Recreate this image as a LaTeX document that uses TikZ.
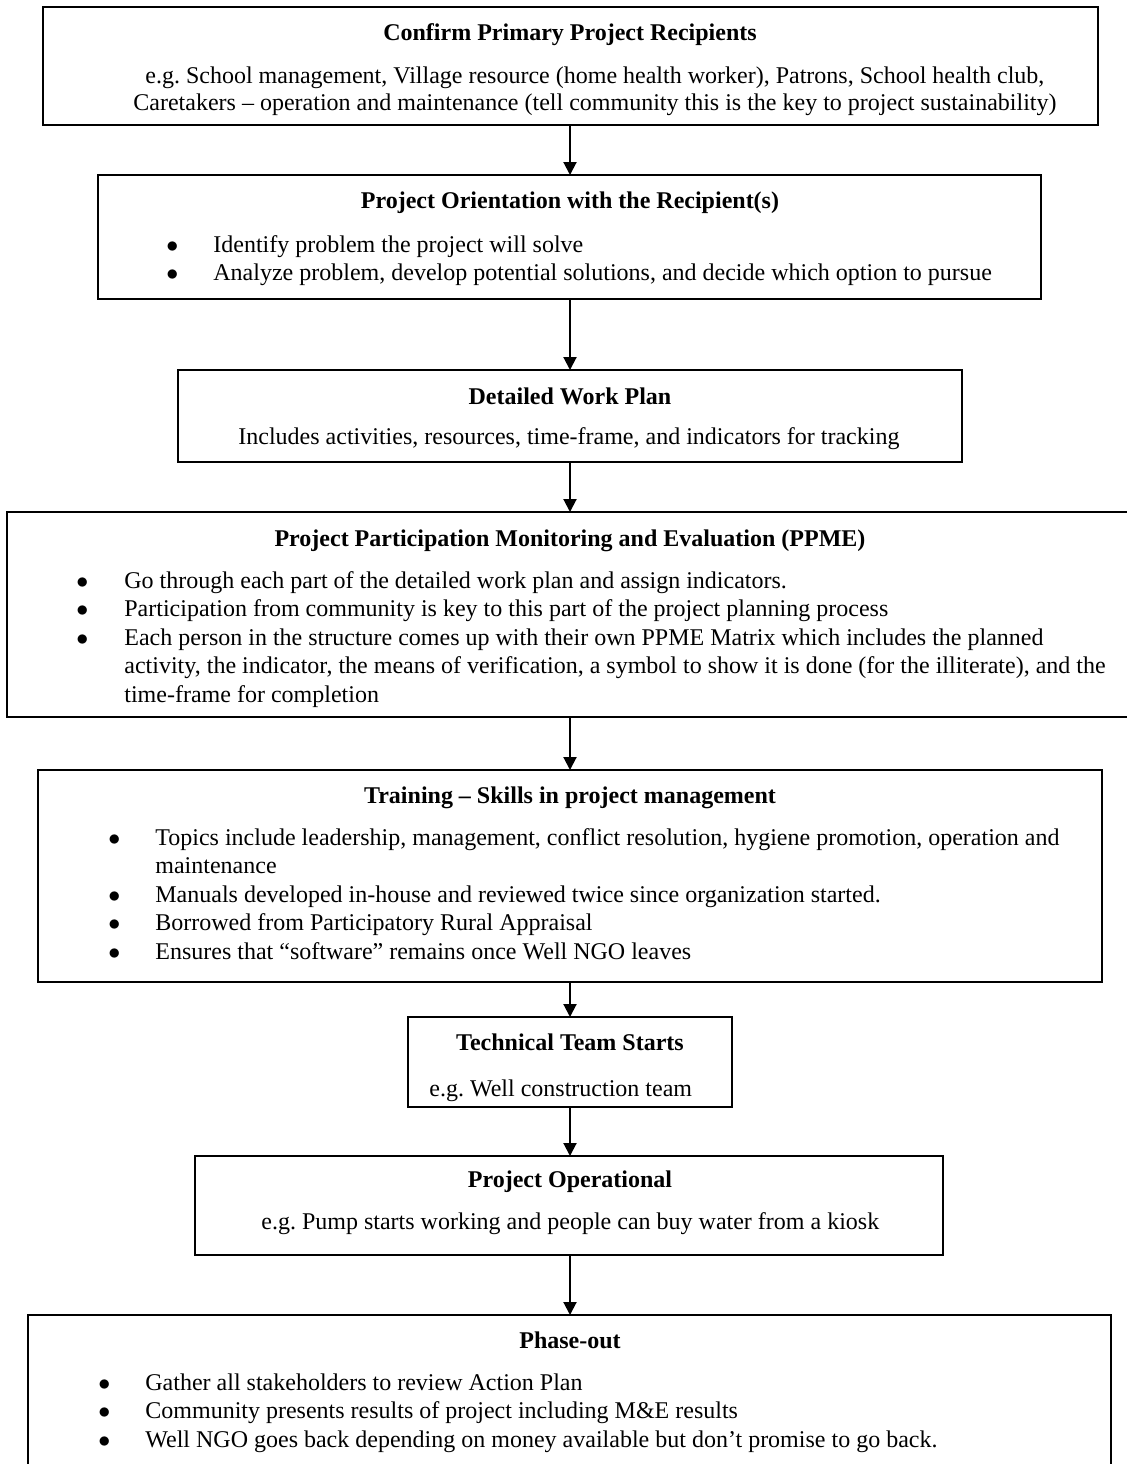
\documentclass[tikz,border=0pt]{standalone}
\usepackage{fontspec}
\setmainfont{Liberation Serif}
\usetikzlibrary{arrows.meta}
\newcommand\myfs{\fontsize{12pt}{14pt}\selectfont\frenchspacing}
\begin{document}
\begin{tikzpicture}[x=0.5pt,y=-0.5pt,
  box/.style={draw, line width=1pt, inner sep=0pt, outer sep=0pt, anchor=north west},
  ttl/.style={anchor=base, inner sep=0pt, font=\myfs\bfseries},
  txt/.style={anchor=base west, inner sep=0pt, font=\myfs},
  arr/.style={line width=1pt, -{Triangle[length=6.5pt,width=6.5pt]}}]
\clip (0,0) rectangle (1127,1464);
\fill[white] (0,0) rectangle (1127,1464);
\coordinate (ax) at (570,0);

% boxes
\node[box, minimum width=527.5pt, minimum height=59pt]  (b1) at (43,7) {};
\node[box, minimum width=471.5pt, minimum height=62pt]  (b2) at (98,175) {};
\node[box, minimum width=392pt,   minimum height=46pt]  (b3) at (178,370) {};
\node[box, minimum width=566.5pt, minimum height=102.5pt] (b4) at (7,512) {};
\node[box, minimum width=532pt,   minimum height=106pt] (b5) at (38,770) {};
\node[box, minimum width=162pt,   minimum height=45pt]  (b6) at (408,1017) {};
\node[box, minimum width=374pt,   minimum height=49.5pt] (b7) at (195,1156) {};
\node[box, minimum width=541.5pt, minimum height=85pt]  (b8) at (28,1315) {};

% arrows
\draw[arr] (b1.south -| ax) -- (b2.north -| ax);
\draw[arr] (b2.south -| ax) -- (b3.north -| ax);
\draw[arr] (b3.south -| ax) -- (b4.north -| ax);
\draw[arr] (b4.south -| ax) -- (b5.north -| ax);
\draw[arr] (b5.south -| ax) -- (b6.north -| ax);
\draw[arr] (b6.south -| ax) -- (b7.north -| ax);
\draw[arr] (b7.south -| ax) -- (b8.north -| ax);

% box 1
\node[ttl] (t1) at (570,40) {Confirm Primary Project Recipients};
\node[txt] (t1a) at (145,83) {e.g. School management, Village resource (home health worker), Patrons, School health club,};
\node[txt] (t1b) at (133,110) {Caretakers – operation and maintenance (tell community this is the key to project sustainability)};

% box 2
\node[ttl] (t2) at (570,208) {Project Orientation with the Recipient(s)};
\node[txt] (p2a) at (166,252) {$\bullet$};
\node[txt] (t2a) at (213,252) {Identify problem the project will solve};
\node[txt] (p2b) at (166,280) {$\bullet$};
\node[txt] (t2b) at (213,280) {Analyze problem, develop potential solutions, and decide which option to pursue};

% box 3
\node[ttl] (t3) at (570,404) {Detailed Work Plan};
\node[txt] (t3a) at (238,444) {Includes activities, resources, time-frame, and indicators for tracking};

% box 4
\node[ttl] (t4) at (570,546) {Project Participation Monitoring and Evaluation (PPME)};
\node[txt] (p4a) at (76,588) {$\bullet$};
\node[txt] (t4a) at (124,588) {Go through each part of the detailed work plan and assign indicators.};
\node[txt] (p4b) at (76,616.5) {$\bullet$};
\node[txt] (t4b) at (124,616.5) {Participation from community is key to this part of the project planning process};
\node[txt] (p4c) at (76,645) {$\bullet$};
\node[txt] (t4c) at (124,645) {Each person in the structure comes up with their own PPME Matrix which includes the planned};
\node[txt] (t4d) at (124,673.5) {activity, the indicator, the means of verification, a symbol to show it is done (for the illiterate), and the};
\node[txt] (t4e) at (124,702) {time-frame for completion};

% box 5
\node[ttl] (t5) at (570,803) {Training – Skills in project management};
\node[txt] (p5a) at (108,845) {$\bullet$};
\node[txt] (t5a) at (155,845) {Topics include leadership, management, conflict resolution, hygiene promotion, operation and};
\node[txt] (t5b) at (155,873.5) {maintenance};
\node[txt] (p5c) at (108,902) {$\bullet$};
\node[txt] (t5c) at (155,902) {Manuals developed in-house and reviewed twice since organization started.};
\node[txt] (p5d) at (108,930.5) {$\bullet$};
\node[txt] (t5d) at (155,930.5) {Borrowed from Participatory Rural Appraisal};
\node[txt] (p5e) at (108,959) {$\bullet$};
\node[txt] (t5e) at (155,959) {Ensures that “software” remains once Well NGO leaves};

% box 6
\node[ttl] (t6) at (570,1050) {Technical Team Starts};
\node[txt] (t6a) at (429,1096) {e.g. Well construction team};

% box 7
\node[ttl] (t7) at (570,1187) {Project Operational};
\node[txt] (t7a) at (261,1229) {e.g. Pump starts working and people can buy water from a kiosk};

% box 8
\node[ttl] (t8) at (570,1348) {Phase-out};
\node[txt] (p8a) at (98,1390) {$\bullet$};
\node[txt] (t8a) at (145,1390) {Gather all stakeholders to review Action Plan};
\node[txt] (p8b) at (98,1418.5) {$\bullet$};
\node[txt] (t8b) at (145,1418.5) {Community presents results of project including M\&E results};
\node[txt] (p8c) at (98,1447) {$\bullet$};
\node[txt] (t8c) at (145,1447) {Well NGO goes back depending on money available but don’t promise to go back.};
\end{tikzpicture}
\end{document}
